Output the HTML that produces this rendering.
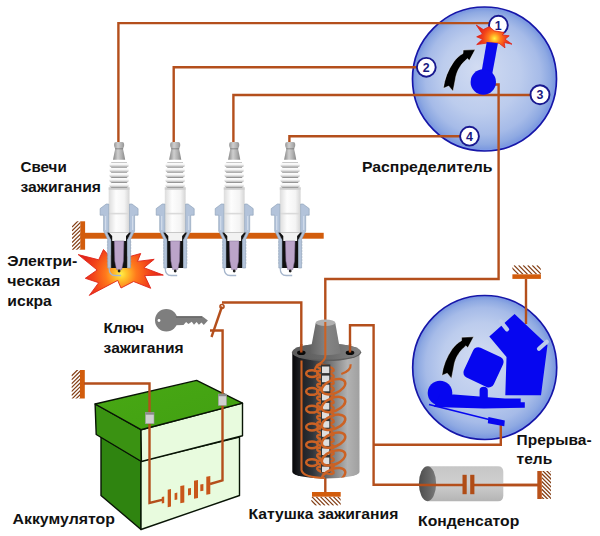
<!DOCTYPE html>
<html><head><meta charset="utf-8">
<style>
html,body{margin:0;padding:0;background:#fff;overflow:hidden}
svg{display:block}
text{font-family:"Liberation Sans",sans-serif;font-weight:bold;font-size:15.5px;fill:#111}
.w{fill:none;stroke:#b44f1c;stroke-width:2.4;stroke-linejoin:miter}
.tn{font-size:12.4px;fill:#1a1a80;text-anchor:middle}
</style></head>
<body>
<svg width="600" height="536" viewBox="0 0 600 536">
<defs>
  <radialGradient id="disc" cx="0.5" cy="0.5" r="0.5" fx="0.45" fy="0.42">
    <stop offset="0" stop-color="#d2dcf2"/>
    <stop offset="0.55" stop-color="#bccced"/>
    <stop offset="0.8" stop-color="#a6bbe8"/>
    <stop offset="0.92" stop-color="#8ea9e2"/>
    <stop offset="0.975" stop-color="#7d9ae0"/>
    <stop offset="1" stop-color="#7e9cf0"/>
  </radialGradient>
  <radialGradient id="boom" cx="0.5" cy="0.55" r="0.55">
    <stop offset="0" stop-color="#fff04a"/>
    <stop offset="0.35" stop-color="#ffc020"/>
    <stop offset="0.7" stop-color="#ff7010"/>
    <stop offset="1" stop-color="#f0301a"/>
  </radialGradient>
  <radialGradient id="boom1" gradientUnits="userSpaceOnUse" cx="121" cy="274" r="40">
    <stop offset="0" stop-color="#fff04a"/>
    <stop offset="0.14" stop-color="#ffc42c"/>
    <stop offset="0.38" stop-color="#ff7a1c"/>
    <stop offset="0.7" stop-color="#f2441a"/>
    <stop offset="1" stop-color="#e2241a"/>
  </radialGradient>
  <radialGradient id="boom2" gradientUnits="userSpaceOnUse" cx="494.5" cy="38.5" r="17">
    <stop offset="0" stop-color="#fff04a"/>
    <stop offset="0.14" stop-color="#ffc42c"/>
    <stop offset="0.36" stop-color="#ff7a1c"/>
    <stop offset="0.65" stop-color="#f2441a"/>
    <stop offset="1" stop-color="#e2241a"/>
  </radialGradient>
  <linearGradient id="capg" x1="0" x2="1" y1="0" y2="0">
    <stop offset="0" stop-color="#868686"/>
    <stop offset="0.4" stop-color="#cfcfcf"/>
    <stop offset="0.7" stop-color="#b0b0b0"/>
    <stop offset="1" stop-color="#888"/>
  </linearGradient>
  <linearGradient id="insg" x1="0" x2="1" y1="0" y2="0">
    <stop offset="0" stop-color="#dcdcdc"/>
    <stop offset="0.35" stop-color="#fdfdfd"/>
    <stop offset="0.75" stop-color="#f4f4f4"/>
    <stop offset="1" stop-color="#d4d4d4"/>
  </linearGradient>
  <linearGradient id="ribg" x1="0" x2="0" y1="0" y2="1">
    <stop offset="0" stop-color="#ffffff"/>
    <stop offset="0.45" stop-color="#f4f4f4"/>
    <stop offset="0.8" stop-color="#c4c4c4"/>
    <stop offset="1" stop-color="#9a9a9a"/>
  </linearGradient>
  <linearGradient id="coilg" x1="0" x2="1" y1="0" y2="0">
    <stop offset="0" stop-color="#060608"/>
    <stop offset="0.1" stop-color="#1a1c20"/>
    <stop offset="0.3" stop-color="#30343a"/>
    <stop offset="0.6" stop-color="#7c7c7c"/>
    <stop offset="0.82" stop-color="#b2b2b2"/>
    <stop offset="1" stop-color="#a0a0a0"/>
  </linearGradient>
  <linearGradient id="capTop" x1="0" x2="1" y1="0" y2="0">
    <stop offset="0" stop-color="#5a5a5a"/>
    <stop offset="0.6" stop-color="#6e6e6e"/>
    <stop offset="1" stop-color="#848484"/>
  </linearGradient>
  <linearGradient id="towerg" x1="0" x2="1" y1="0" y2="0">
    <stop offset="0" stop-color="#636363"/>
    <stop offset="0.55" stop-color="#858585"/>
    <stop offset="1" stop-color="#7a7a7a"/>
  </linearGradient>
  <linearGradient id="capEnd" x1="0" x2="1" y1="0" y2="0">
    <stop offset="0" stop-color="#4e4e4e"/>
    <stop offset="0.6" stop-color="#666"/>
    <stop offset="1" stop-color="#7a7a7a"/>
  </linearGradient>
  <linearGradient id="capcg" x1="0" x2="0" y1="0" y2="1">
    <stop offset="0" stop-color="#c6c6c6"/>
    <stop offset="0.5" stop-color="#cfcfcf"/>
    <stop offset="1" stop-color="#b4b4b4"/>
  </linearGradient>
  <linearGradient id="topg" x1="0" x2="1" y1="0" y2="1">
    <stop offset="0" stop-color="#48a814"/>
    <stop offset="1" stop-color="#42a012"/>
  </linearGradient>
  

  <g id="plug">
    <!-- insulator body -->
    <rect x="-10.4" y="187" width="20.8" height="47" fill="url(#insg)"/>
    <rect x="-10.4" y="187.6" width="20.8" height="2.2" fill="#cfcfcf"/>
    <rect x="-10.4" y="212.8" width="20.8" height="1.6" fill="#dadada"/>
    <!-- black inner -->
    <path d="M-12.2,232.3 L-8.3,240 L-8.3,268 L8.3,268 L8.3,240 L12.2,232.3 Z" fill="#111"/>
    <!-- white collar -->
    <path d="M-10.4,232.3 L-6.9,236 L-6.9,241 L6.9,241 L6.9,236 L10.4,232.3 Z" fill="#f2f2f2"/>
    <!-- shell left -->
    <path d="M-10.4,204 L-12.9,204 L-19,208.6 L-19,215.2 L-15.5,215.2 L-15.5,231 L-11.4,239.5 L-11.4,268 L-8.3,268 L-8.3,240 L-12.2,232.3 L-10.4,232.3 Z" fill="#b3c3da" stroke="#8a9db6" stroke-width="0.6"/>
    <path d="M10.4,204 L12.9,204 L19,208.6 L19,215.2 L15.5,215.2 L15.5,231 L11.4,239.5 L11.4,268 L8.3,268 L8.3,240 L12.2,232.3 L10.4,232.3 Z" fill="#b3c3da" stroke="#8a9db6" stroke-width="0.6"/>
    <path d="M-13.5,216 L-13.5,230 M13.5,216 L13.5,230" stroke="#d2dcea" stroke-width="1.2"/>
    <!-- thread serration -->
    <path d="M-11.4,242 h-0.8 M-11.4,245 h-0.8 M-11.4,248 h-0.8 M-11.4,251 h-0.8 M-11.4,254 h-0.8 M-11.4,257 h-0.8 M-11.4,260 h-0.8 M-11.4,263 h-0.8 M11.4,242 h0.8 M11.4,245 h0.8 M11.4,248 h0.8 M11.4,251 h0.8 M11.4,254 h0.8 M11.4,257 h0.8 M11.4,260 h0.8 M11.4,263 h0.8" stroke="#9aaac0" stroke-width="1"/>
    <!-- lavender tip -->
    <path d="M-4.8,241 L4.8,241 L4.3,261 L2.6,269.6 L-2.6,269.6 L-4.3,261 Z" fill="#bba4c9" stroke="#86709a" stroke-width="0.5"/>
    <circle cx="0" cy="271" r="1.4" fill="#222"/>
    <!-- ground electrode -->
    <path d="M-10,268 Q-10,275.5 -4,275.5 L2,275.5" fill="none" stroke="#a6b6cc" stroke-width="1.3"/>
    <!-- ribs -->
    <rect x="-7.8" y="162" width="15.6" height="26" fill="#8e8e8e"/>
    <rect x="-9.75" y="162.6" width="19.5" height="4.7" rx="2.35" fill="url(#ribg)"/>
    <rect x="-9.75" y="167.7" width="19.5" height="4.7" rx="2.35" fill="url(#ribg)"/>
    <rect x="-9.75" y="172.8" width="19.5" height="4.7" rx="2.35" fill="url(#ribg)"/>
    <rect x="-9.75" y="177.9" width="19.5" height="4.7" rx="2.35" fill="url(#ribg)"/>
    <rect x="-9.75" y="183.0" width="19.5" height="4.7" rx="2.35" fill="url(#ribg)"/>
    <!-- terminal cap -->
    <path d="M-5,144 Q-5,142 -3,142 L3,142 Q5,142 5,144 L5,146 L3.9,149 L4.8,153 L6.1,159.8 L-6.1,159.8 L-4.8,153 L-3.9,149 L-5,146 Z" fill="url(#capg)"/>
    <path d="M-4,148.8 L4,148.8" stroke="#5a5a5a" stroke-width="0.9" opacity="0.6"/>
  </g>
</defs>


<!-- ===== distributor ===== -->
<circle cx="484.5" cy="79" r="72" fill="url(#disc)" stroke="#1616a8" stroke-width="1.7"/>
<!-- ===== breaker disc ===== -->
<circle cx="484.7" cy="367.5" r="72" fill="url(#disc)" stroke="#1616a8" stroke-width="1.7"/>

<!-- ===== wires ===== -->
<path class="w" d="M118.4,144 V23.1 H490"/>
<path class="w" d="M173.7,144 V67.2 H418"/>
<path class="w" d="M233.4,144 V95 H531"/>
<path class="w" d="M289.4,144 V136.2 H461"/>
<path class="w" d="M488,84.5 H498.6 V279 H325.3 V324"/>
<path class="w" d="M301.3,353 V302.5 H222"/>
<path class="w" d="M222,306.5 L211.5,337"/>
<path class="w" d="M350,353 V325.2 H373.6 V484.8 H463"/>
<path class="w" d="M373.6,444.8 H500.8 V424"/>
<path class="w" d="M473,485 H538"/>
<path class="w" d="M526,279 V324"/>

<!-- plug ground bar -->
<rect x="80.5" y="232.8" width="243.2" height="5.9" fill="#d25c0c"/>
<rect x="80.3" y="221.3" width="4.8" height="28.4" fill="#d25c0c"/>
<clipPath id="hc1"><rect x="72" y="221.3" width="8.3" height="28.4"/></clipPath>
<g clip-path="url(#hc1)" stroke="#823c12" stroke-width="1.2"><line x1="72.00" y1="227.00" x2="81.00" y2="218.00"/><line x1="72.00" y1="230.90" x2="81.00" y2="221.90"/><line x1="72.00" y1="234.80" x2="81.00" y2="225.80"/><line x1="72.00" y1="238.70" x2="81.00" y2="229.70"/><line x1="72.00" y1="242.60" x2="81.00" y2="233.60"/><line x1="72.00" y1="246.50" x2="81.00" y2="237.50"/><line x1="72.00" y1="250.40" x2="81.00" y2="241.40"/><line x1="72.00" y1="254.30" x2="81.00" y2="245.30"/><line x1="72.00" y1="258.20" x2="81.00" y2="249.20"/></g>

<!-- explosion at plug 1 -->
<polygon points="78.2,254.6 98.7,259.8 103.5,249.5 109,255.8 128,257 140.7,253.5 137.5,261.4 154.2,259.3 143.9,267.7 163.3,275.1 144.7,275.6 150.7,288.3 133.6,281.5 121,288 117.7,280.4 89.3,295.4 98.7,282.7 85.3,278.3 97.2,270" fill="url(#boom1)" stroke="#e02418" stroke-width="0.9" stroke-linejoin="miter"/>
<!-- ===== spark plugs ===== -->
<use href="#plug" transform="translate(119.1,0)"/>
<use href="#plug" transform="translate(175.2,0)"/>
<use href="#plug" transform="translate(234.2,0)"/>
<use href="#plug" transform="translate(290.2,0)"/>

<!-- terminals -->
<g stroke="#181890" stroke-width="1.9" fill="#fff">
  <circle cx="498.4" cy="25.2" r="9.4"/>
  <circle cx="426.3" cy="67.3" r="9.4"/>
  <circle cx="540" cy="94.7" r="9.5"/>
  <circle cx="469.5" cy="136.2" r="9.4"/>
</g>
<text class="tn" x="498.2" y="29.6">1</text>
<text class="tn" x="426.2" y="71.8">2</text>
<text class="tn" x="540" y="99.1">3</text>
<text class="tn" x="469.5" y="140.6">4</text>

<!-- spark at rotor -->
<polygon points="476.25,25 483.3,29.6 489.2,26.7 494.2,30.8 504.2,32.5 502.5,35 509.2,35.8 505,39.2 512,44.2 504.2,42.5 505,47.9 499.2,43.3 490.4,42.5 476.7,44.6 482.5,39.2 476.7,36.8 482.5,34.2" fill="url(#boom2)" stroke="#e02418" stroke-width="0.8"/>
<!-- rotor -->
<polygon points="486.7,42.1 497.9,43.2 492.2,74 481.5,72" fill="#0a0aee"/>
<circle cx="483.3" cy="82" r="12.7" fill="#0a0aee"/>
<!-- rotation arrow top -->
<path d="M443.4,88.3 C444.5,79 448,70 453.7,61.9 C456.5,58 459.5,55.5 463,53.5 L463.2,50.1 L475.2,49.6 L469.3,60.6 L467.5,58.5 C461.5,63.5 456.5,70 455.2,80 L453,91.2 L448.7,86 Z" fill="#000" stroke="#fff" stroke-width="0.8" stroke-opacity="0.5"/>

<!-- ===== key ===== -->
<circle cx="166.3" cy="320.3" r="11.3" fill="#7e7e7e"/>
<path d="M175,316.25 L202.25,316.25 L207.9,320.4 L203.75,324.9 L201.5,322.6 L198.9,324.7 L196.6,322.1 L194,324.7 L191.75,321.65 L188.4,324.1 L186.1,321.9 L183.5,324.9 L175,325.3 Z" fill="#7e7e7e"/>
<rect x="176" y="316.25" width="26" height="1.6" fill="#6a6a6a"/>
<circle cx="159" cy="320.5" r="1.4" fill="#fff"/>
<circle cx="222" cy="306.5" r="2" fill="none" stroke="#b44f1c" stroke-width="1.6"/>

<!-- ground near battery -->
<rect x="80" y="370" width="4.8" height="28.5" fill="#d25c0c"/>
<clipPath id="hc2"><rect x="71.5" y="370" width="8.5" height="28.5"/></clipPath>
<g clip-path="url(#hc2)" stroke="#823c12" stroke-width="1.2"><line x1="71.50" y1="376.00" x2="80.50" y2="367.00"/><line x1="71.50" y1="379.90" x2="80.50" y2="370.90"/><line x1="71.50" y1="383.80" x2="80.50" y2="374.80"/><line x1="71.50" y1="387.70" x2="80.50" y2="378.70"/><line x1="71.50" y1="391.60" x2="80.50" y2="382.60"/><line x1="71.50" y1="395.50" x2="80.50" y2="386.50"/><line x1="71.50" y1="399.40" x2="80.50" y2="390.40"/><line x1="71.50" y1="403.30" x2="80.50" y2="394.30"/><line x1="71.50" y1="407.20" x2="80.50" y2="398.20"/></g>

<!-- ground top-right -->
<rect x="512.4" y="274.3" width="28.5" height="4.6" fill="#d25c0c"/>
<clipPath id="hc3"><rect x="512.4" y="265.3" width="28.5" height="9.0"/></clipPath>
<g clip-path="url(#hc3)" stroke="#823c12" stroke-width="1.2"><line x1="509.50" y1="265.30" x2="518.50" y2="274.30"/><line x1="514.05" y1="265.30" x2="523.05" y2="274.30"/><line x1="518.60" y1="265.30" x2="527.60" y2="274.30"/><line x1="523.15" y1="265.30" x2="532.15" y2="274.30"/><line x1="527.70" y1="265.30" x2="536.70" y2="274.30"/><line x1="532.25" y1="265.30" x2="541.25" y2="274.30"/><line x1="536.80" y1="265.30" x2="545.80" y2="274.30"/><line x1="541.35" y1="265.30" x2="550.35" y2="274.30"/></g>

<!-- ground coil -->
<path class="w" d="M325.3,476 V492.5"/>
<rect x="312" y="492" width="28.7" height="4.7" fill="#d25c0c"/>
<clipPath id="hc4"><rect x="311.3" y="496.7" width="29.40" height="8.80"/></clipPath>
<g clip-path="url(#hc4)" stroke="#823c12" stroke-width="1.2"><line x1="307.50" y1="496.70" x2="316.50" y2="505.70"/><line x1="311.80" y1="496.70" x2="320.80" y2="505.70"/><line x1="316.10" y1="496.70" x2="325.10" y2="505.70"/><line x1="320.40" y1="496.70" x2="329.40" y2="505.70"/><line x1="324.70" y1="496.70" x2="333.70" y2="505.70"/><line x1="329.00" y1="496.70" x2="338.00" y2="505.70"/><line x1="333.30" y1="496.70" x2="342.30" y2="505.70"/><line x1="337.60" y1="496.70" x2="346.60" y2="505.70"/><line x1="341.90" y1="496.70" x2="350.90" y2="505.70"/></g>

<!-- ground capacitor -->
<rect x="537.3" y="471" width="4.5" height="28" fill="#b9521a"/>
<clipPath id="hc5"><rect x="541.8" y="471" width="9.2" height="28"/></clipPath>
<g clip-path="url(#hc5)" stroke="#823c12" stroke-width="1.25"><line x1="541.8" y1="462.00" x2="551.80" y2="472.00"/><line x1="541.8" y1="465.90" x2="551.80" y2="475.90"/><line x1="541.8" y1="469.80" x2="551.80" y2="479.80"/><line x1="541.8" y1="473.70" x2="551.80" y2="483.70"/><line x1="541.8" y1="477.60" x2="551.80" y2="487.60"/><line x1="541.8" y1="481.50" x2="551.80" y2="491.50"/><line x1="541.8" y1="485.40" x2="551.80" y2="495.40"/><line x1="541.8" y1="489.30" x2="551.80" y2="499.30"/><line x1="541.8" y1="493.20" x2="551.80" y2="503.20"/><line x1="541.8" y1="497.10" x2="551.80" y2="507.10"/><line x1="541.8" y1="501.00" x2="551.80" y2="511.00"/><line x1="541.8" y1="504.90" x2="551.80" y2="514.90"/></g>


<!-- ===== battery ===== -->
<g stroke="#081405" stroke-width="1.4" stroke-linejoin="round">
  <polygon points="101,437 141,461 141,529.5 101,495.5" fill="#2f8410"/>
  <polygon points="141,461 239.5,437 239.5,495.5 141,529.5" fill="#e8fbde"/>
  <polygon points="95.1,404 141,429.7 141.4,461.5 96.2,434.5" fill="#3a9212"/>
  <polygon points="141,429.7 242.5,403.1 242.5,435.7 141.4,461.5" fill="#e8fbde"/>
  <polygon points="95.1,404 196.6,380.4 242.5,403.1 141,429.7" fill="url(#topg)"/>
</g>
<path class="w" d="M84,383.5 H149.5 V414"/>
<path class="w" d="M210,330.5 H222.6 V400"/>
<!-- battery internal wires -->
<path class="w" d="M149.5,420 V503 L163,499.6"/>
<path class="w" d="M222.5,402 V480.4 L210,484"/>
<g fill="#c8561a">
  <polygon points="161.8,497 164.2,496.5 164.2,503 161.8,503.5"/>
  <polygon points="167.7,489.8 171,489 171,506.5 167.7,507.3"/>
  <polygon points="174.6,493.2 177.3,492.6 177.3,499.5 174.6,500"/>
  <polygon points="180.3,486 184.3,485.2 184.3,502.5 180.3,503.3"/>
  <polygon points="188,488.6 191,488 191,494.8 188,495.4"/>
  <polygon points="194,480.8 198,480 198,497.9 194,498.7"/>
  <polygon points="200.3,484.6 203.4,484 203.4,490.7 200.3,491.3"/>
  <polygon points="206.3,476.8 210.3,476 210.3,494 206.3,494.7"/>
</g>
<!-- battery terminals -->
<rect x="145.4" y="412.5" width="8.6" height="11.2" fill="#cfcfcf" stroke="#999" stroke-width="0.6"/>
<rect x="145.4" y="412.5" width="8.6" height="2.2" fill="#8a8a8a"/>
<rect x="218.3" y="394" width="8.2" height="11.4" fill="#cfcfcf" stroke="#999" stroke-width="0.6"/>
<rect x="218.3" y="394" width="8.2" height="2.2" fill="#8a8a8a"/>

<!-- ===== coil ===== -->
<path d="M292.3,352 L292.3,472 A33.6,6.5 0 0 0 359.5,472 L359.5,352 Z" fill="url(#coilg)"/>
<ellipse cx="326.6" cy="352.3" rx="34.6" ry="8.8" fill="#5e5e5e"/>
<ellipse cx="326.6" cy="351.6" rx="34" ry="8" fill="url(#capTop)"/>
<path d="M315.7,323 L310,353.2 Q325.4,357.5 340.7,353.2 L335.3,323 Z" fill="url(#towerg)"/>
<ellipse cx="325.5" cy="322.8" rx="9.9" ry="3.2" fill="#b0b0b0"/>
<ellipse cx="301.3" cy="352.7" rx="4.3" ry="2.3" fill="#0a0a0a"/>
<ellipse cx="350" cy="352.7" rx="4.3" ry="2.3" fill="#0a0a0a"/>
<path class="w" d="M301.3,344 V352.6 M350,344 V352.6"/>
<g fill="none" stroke="#cc6224" stroke-width="2.3">
  <ellipse cx="325.4" cy="368.0" rx="8.6" ry="2.6" transform="rotate(16 325.4 368.0)"/>
  <ellipse cx="325.4" cy="374.4" rx="8.6" ry="2.6" transform="rotate(16 325.4 374.4)"/>
  <ellipse cx="325.4" cy="380.8" rx="8.6" ry="2.6" transform="rotate(16 325.4 380.8)"/>
  <ellipse cx="325.4" cy="387.2" rx="8.6" ry="2.6" transform="rotate(16 325.4 387.2)"/>
  <ellipse cx="325.4" cy="393.6" rx="8.6" ry="2.6" transform="rotate(16 325.4 393.6)"/>
  <ellipse cx="325.4" cy="400.0" rx="8.6" ry="2.6" transform="rotate(16 325.4 400.0)"/>
  <ellipse cx="325.4" cy="406.4" rx="8.6" ry="2.6" transform="rotate(16 325.4 406.4)"/>
  <ellipse cx="325.4" cy="412.8" rx="8.6" ry="2.6" transform="rotate(16 325.4 412.8)"/>
  <ellipse cx="325.4" cy="419.2" rx="8.6" ry="2.6" transform="rotate(16 325.4 419.2)"/>
  <ellipse cx="325.4" cy="425.6" rx="8.6" ry="2.6" transform="rotate(16 325.4 425.6)"/>
  <ellipse cx="325.4" cy="432.0" rx="8.6" ry="2.6" transform="rotate(16 325.4 432.0)"/>
  <ellipse cx="325.4" cy="438.4" rx="8.6" ry="2.6" transform="rotate(16 325.4 438.4)"/>
  <ellipse cx="325.4" cy="444.8" rx="8.6" ry="2.6" transform="rotate(16 325.4 444.8)"/>
  <ellipse cx="325.4" cy="451.2" rx="8.6" ry="2.6" transform="rotate(16 325.4 451.2)"/>
  <ellipse cx="325.4" cy="457.6" rx="8.6" ry="2.6" transform="rotate(16 325.4 457.6)"/>
  <ellipse cx="325.4" cy="464.0" rx="8.6" ry="2.6" transform="rotate(16 325.4 464.0)"/>
  <ellipse cx="325.4" cy="470.4" rx="8.6" ry="2.6" transform="rotate(16 325.4 470.4)"/>
</g>
<!-- core -->
<rect x="321" y="364.5" width="9.3" height="108" fill="#333"/>
<g fill="#dedede">
  <rect x="322" y="366.5" width="7.3" height="6.6"/>
  <rect x="322" y="375.6" width="7.3" height="6.6"/>
  <rect x="322" y="384.7" width="7.3" height="6.6"/>
  <rect x="322" y="393.8" width="7.3" height="6.6"/>
  <rect x="322" y="402.9" width="7.3" height="6.6"/>
  <rect x="322" y="412.0" width="7.3" height="6.6"/>
  <rect x="322" y="421.1" width="7.3" height="6.6"/>
  <rect x="322" y="430.2" width="7.3" height="6.6"/>
  <rect x="322" y="439.3" width="7.3" height="6.6"/>
  <rect x="322" y="448.4" width="7.3" height="6.6"/>
  <rect x="322" y="457.5" width="7.3" height="6.6"/>
  <rect x="322" y="466.6" width="7.3" height="5.4"/>
</g>
<!-- windings -->
<clipPath id="coilclip"><path d="M292.3,356 L292.3,472 A33.6,6.5 0 0 0 359.5,472 L359.5,356 Z"/></clipPath>
<g fill="none" stroke="#cc6224" stroke-width="2.1">
  <path d="M325.3,322 V356 Q325.3,360 320,363.5 Q314,367 315,372"/>
  <path d="M350.7,364.3 Q351,371 341.3,374"/>
  <path d="M301.5,360.5 V470 Q303,477.5 325,478"/>
</g>
<g fill="none" stroke="#cc6224" stroke-width="2.5" clip-path="url(#coilclip)">
  <ellipse cx="312" cy="373.6" rx="5.8" ry="3.4"/>
  <ellipse cx="312" cy="391.4" rx="5.8" ry="3.4"/>
  <ellipse cx="312" cy="409.2" rx="5.8" ry="3.4"/>
  <ellipse cx="312" cy="427.0" rx="5.8" ry="3.4"/>
  <ellipse cx="312" cy="444.8" rx="5.8" ry="3.4"/>
  <ellipse cx="312" cy="462.6" rx="5.8" ry="3.4"/>
  <ellipse cx="333.5" cy="386.7" rx="12.4" ry="6.6" transform="rotate(-22 333.5 386.7)"/>
  <ellipse cx="333.5" cy="404.5" rx="12.4" ry="6.6" transform="rotate(-22 333.5 404.5)"/>
  <ellipse cx="333.5" cy="422.3" rx="12.4" ry="6.6" transform="rotate(-22 333.5 422.3)"/>
  <ellipse cx="333.5" cy="440.1" rx="12.4" ry="6.6" transform="rotate(-22 333.5 440.1)"/>
  <ellipse cx="333.5" cy="457.9" rx="12.4" ry="6.6" transform="rotate(-22 333.5 457.9)"/>
  <ellipse cx="333.5" cy="475.7" rx="12.4" ry="6.6" transform="rotate(-22 333.5 475.7)"/>
</g>
<!-- ===== breaker internals ===== -->
<g fill="#0606f0">
  <polygon points="489.3,336.6 514.6,313.9 547.5,345 541,395.3 505.3,395.3 506.5,357"/>
  <rect x="-16.5" y="-16.5" width="33" height="33" rx="5.5" transform="translate(483.5,367.3) rotate(25)"/>
  <circle cx="440" cy="393" r="12.3"/>
  <path d="M440,394.5 L454,394.5 L479.6,396.6 L479.6,390.5 Q479.6,386.8 483.7,386.8 Q487.8,386.8 487.8,390.5 L487.8,397.2 L505,398.6 L520.7,398.6 L520.7,402.2 L524.8,402.2 L524.8,407.8 L484,408.5 L434,407 Z"/>
  <polygon points="488.4,417 504.8,420.6 504.3,426.3 487.8,423.2"/>
</g>
<path d="M429,404.5 L490,419.8" stroke="#0606f0" stroke-width="1.4"/>
<g stroke="#bccbeb" stroke-width="4.2" stroke-linecap="round">
  <path d="M500.6,321.4 L507,329.4"/>
  <path d="M546.8,341.8 L539,348.8"/>
</g>
<!-- rotation arrow breaker -->
<path d="M443.4,88.3 C444.5,79 448,70 453.7,61.9 C456.5,58 459.5,55.5 463,53.5 L463.2,50.1 L475.2,49.6 L469.3,60.6 L467.5,58.5 C461.5,63.5 456.5,70 455.2,80 L453,91.2 L448.7,86 Z" fill="#000" stroke="#fff" stroke-width="0.8" stroke-opacity="0.5" transform="translate(-1.5,287.2)"/>

<!-- ===== capacitor ===== -->
<path d="M427.5,466.2 L498,466.2 Q503.3,466.2 503.3,472 L503.3,495.4 Q503.3,501.2 498,501.2 L427.5,501.2 Z" fill="url(#capcg)"/>
<ellipse cx="427.5" cy="483.7" rx="8.6" ry="17.5" fill="url(#capEnd)"/>
<path class="w" d="M419,485 H463"/>
<path class="w" d="M473,485 H538"/>
<rect x="462.5" y="474.8" width="4.2" height="19.4" fill="#b04c16"/>
<rect x="470.2" y="474.8" width="4.2" height="19.4" fill="#b04c16"/>

<!-- ===== labels ===== -->
<text x="20.5" y="172.2" textLength="46.2" lengthAdjust="spacingAndGlyphs">Свечи</text>
<text x="20.5" y="192.2" textLength="80.5" lengthAdjust="spacingAndGlyphs">зажигания</text>
<text x="362" y="172" textLength="130.5" lengthAdjust="spacingAndGlyphs">Распределитель</text>
<text x="7.3" y="266.3" textLength="70" lengthAdjust="spacingAndGlyphs">Электри-</text>
<text x="7.3" y="285.7" textLength="53" lengthAdjust="spacingAndGlyphs">ческая</text>
<text x="7.3" y="306.3" textLength="44.5" lengthAdjust="spacingAndGlyphs">искра</text>
<text x="103.6" y="332.8" textLength="40.7" lengthAdjust="spacingAndGlyphs">Ключ</text>
<text x="103.6" y="352.9" textLength="80" lengthAdjust="spacingAndGlyphs">зажигания</text>
<text x="12.5" y="524.2" textLength="102.5" lengthAdjust="spacingAndGlyphs">Аккумулятор</text>
<text x="248.4" y="518.7" textLength="150" lengthAdjust="spacingAndGlyphs">Катушка зажигания</text>
<text x="418.1" y="525.7" textLength="101.2" lengthAdjust="spacingAndGlyphs">Конденсатор</text>
<text x="516.6" y="445.1" textLength="75" lengthAdjust="spacingAndGlyphs">Прерыва-</text>
<text x="516.6" y="464.3">тель</text>
</svg>
</body></html>
